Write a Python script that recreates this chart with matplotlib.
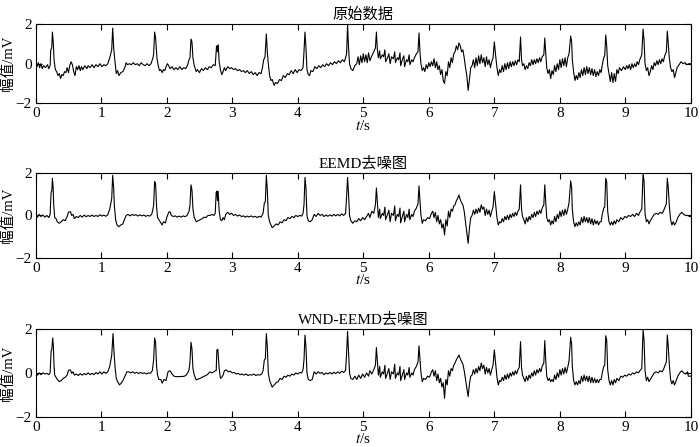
import numpy as np
import matplotlib
matplotlib.use('Agg')
import matplotlib.pyplot as plt

plt.rcParams['font.family'] = ['Liberation Serif', 'Noto Sans CJK SC']
plt.rcParams['mathtext.fontset'] = 'stix'
plt.rcParams['axes.unicode_minus'] = True

titles = ['原始数据', 'EEMD去噪图', 'WND-EEMD去噪图']
xticks = [0, 1, 2, 3, 4, 5, 6, 7, 8, 9, 10]
yticks = [-2, 0, 2]

# (t, mV) points
raw_pts = [
    0.00, 0.0, 0.02, -0.15, 0.04, 0.05, 0.06, -0.2, 0.08, 0.0, 0.10, -0.25, 0.12, -0.1, 0.15, -0.2,
    0.18, -0.05, 0.20, -0.25, 0.22, -0.1, 0.23, 0.7, 0.245, 0.8, 0.255, 1.6, 0.27, 1.0, 0.28, 0.2,
    0.30, -0.3, 0.32, -0.4, 0.34, -0.6, 0.36, -0.5, 0.38, -0.75, 0.40, -0.55, 0.42, -0.6, 0.44, -0.4,
    0.46, -0.45, 0.48, -0.2, 0.50, -0.45, 0.52, -0.1, 0.54, 0.1, 0.56, -0.05, 0.58, -0.4, 0.60, -0.6,
    0.62, -0.15, 0.64, -0.3, 0.66, -0.1, 0.68, -0.35, 0.70, -0.15, 0.72, -0.3, 0.75, -0.1, 0.78, -0.25,
    0.80, -0.1, 0.83, -0.2, 0.86, -0.05, 0.89, -0.2, 0.92, -0.05, 0.95, -0.15, 0.98, 0.0, 1.01, -0.15,
    1.04, -0.05, 1.07, -0.1, 1.10, 0.0, 1.13, 0.3, 1.16, 0.7, 1.175, 1.8, 1.19, 0.8, 1.21, 0.1,
    1.23, -0.5, 1.25, -0.35, 1.27, -0.6, 1.30, -0.45, 1.33, -0.4, 1.36, -0.2, 1.38, 0.05, 1.40, -0.05,
    1.43, 0.0, 1.46, -0.05, 1.49, 0.05, 1.52, -0.05, 1.55, 0.0, 1.58, -0.1, 1.61, 0.05, 1.64, -0.05,
    1.67, -0.1, 1.70, 0.0, 1.73, -0.1, 1.76, 0.0, 1.79, 0.3, 1.80, 0.5, 1.815, 1.6, 1.83, 1.3,
    1.85, 0.3, 1.87, -0.1, 1.89, -0.35, 1.91, -0.3, 1.93, -0.45, 1.95, -0.3, 1.97, -0.35, 1.99, -0.15,
    2.01, 0.0, 2.03, -0.1, 2.05, -0.25, 2.08, -0.15, 2.11, -0.3, 2.14, -0.2, 2.17, -0.3, 2.20, -0.15,
    2.23, -0.3, 2.26, -0.2, 2.29, -0.25, 2.32, -0.05, 2.34, 0.2, 2.355, 0.3, 2.37, 1.25, 2.385, 1.1,
    2.40, 0.3, 2.42, -0.1, 2.45, -0.4, 2.47, -0.3, 2.50, -0.45, 2.53, -0.25, 2.56, -0.35, 2.59, -0.2,
    2.62, -0.3, 2.65, -0.15, 2.68, -0.2, 2.71, -0.05, 2.74, -0.1, 2.76, 0.9, 2.775, 0.6, 2.785, 0.95,
    2.80, 0.1, 2.82, -0.3, 2.84, -0.55, 2.86, -0.4, 2.88, -0.2, 2.90, -0.35, 2.93, -0.15, 2.96, -0.25,
    2.99, -0.2, 3.02, -0.3, 3.05, -0.25, 3.08, -0.35, 3.11, -0.3, 3.14, -0.4, 3.17, -0.35, 3.20, -0.45,
    3.23, -0.35, 3.26, -0.5, 3.29, -0.4, 3.32, -0.55, 3.35, -0.45, 3.38, -0.6, 3.41, -0.45, 3.44, -0.5,
    3.46, -0.2, 3.48, 0.2, 3.50, 0.35, 3.52, 1.5, 3.535, 0.6, 3.55, 0.0, 3.57, -0.6, 3.59, -0.85,
    3.61, -0.8, 3.64, -1.1, 3.66, -0.95, 3.69, -1.0, 3.72, -0.8, 3.75, -0.85, 3.78, -0.6, 3.81, -0.7,
    3.84, -0.5, 3.87, -0.55, 3.90, -0.35, 3.93, -0.5, 3.96, -0.3, 3.99, -0.45, 4.02, -0.3, 4.05, -0.35,
    4.08, -0.2, 4.09, 0.3, 4.11, 1.6, 4.125, 0.8, 4.14, -0.3, 4.16, -0.55, 4.18, -0.6, 4.20, -0.35,
    4.23, -0.4, 4.26, -0.15, 4.29, -0.25, 4.32, -0.1, 4.35, -0.2, 4.38, -0.05, 4.41, -0.15, 4.44, 0.0,
    4.47, -0.1, 4.50, 0.05, 4.53, -0.05, 4.56, 0.1, 4.59, 0.0, 4.62, 0.15, 4.65, 0.05, 4.68, 0.2,
    4.71, 0.1, 4.73, 0.3, 4.745, 0.5, 4.76, 1.95, 4.775, 0.8, 4.79, 0.0, 4.81, -0.25, 4.84, -0.35,
    4.87, -0.1, 4.90, 0.0, 4.92, 0.35, 4.94, -0.05, 4.96, 0.4, 4.98, 0.05, 5.00, 0.5, 5.02, 0.1,
    5.04, 0.45, 5.06, 0.05, 5.08, 0.55, 5.10, 0.15, 5.13, 0.4, 5.16, 0.6, 5.185, 0.8, 5.20, 1.6,
    5.215, 0.7, 5.23, 0.3, 5.25, 0.65, 5.26, 0.25, 5.29, 0.45, 5.31, 0.35, 5.33, 0.7, 5.34, 0.1,
    5.37, 0.3, 5.39, 0.5, 5.41, 0.0, 5.43, 0.35, 5.46, 0.25, 5.48, 0.6, 5.49, 0.05, 5.52, 0.3,
    5.54, 0.2, 5.56, 0.55, 5.57, -0.1, 5.60, 0.25, 5.62, 0.4, 5.63, -0.15, 5.66, 0.2, 5.68, 0.1,
    5.70, 0.45, 5.71, -0.05, 5.74, 0.2, 5.76, 0.1, 5.78, 0.3, 5.81, 0.5, 5.835, 0.6, 5.85, 1.55,
    5.865, 0.6, 5.88, 0.0, 5.90, -0.35, 5.92, -0.2, 5.94, -0.4, 5.96, -0.05, 5.98, -0.25, 6.00, 0.05,
    6.02, -0.15, 6.04, 0.1, 6.06, -0.1, 6.08, 0.25, 6.10, -0.2, 6.12, 0.1, 6.14, -0.3, 6.16, -0.1,
    6.18, -0.55, 6.20, -0.3, 6.22, -0.85, 6.24, -1.0, 6.26, -0.4, 6.28, -0.6, 6.30, 0.1, 6.32, -0.2,
    6.34, 0.3, 6.36, 0.05, 6.38, 0.5, 6.40, 0.6, 6.42, 0.9, 6.44, 0.7, 6.46, 1.05, 6.48, 0.9,
    6.50, 0.6, 6.52, 0.7, 6.54, 0.3, 6.56, -0.2, 6.58, -0.6, 6.60, -1.35, 6.62, -0.8, 6.64, -0.2,
    6.66, -0.1, 6.68, 0.2, 6.70, -0.2, 6.72, 0.3, 6.74, -0.1, 6.76, 0.4, 6.78, 0.0, 6.80, 0.45,
    6.82, 0.05, 6.84, 0.3, 6.86, -0.15, 6.88, 0.35, 6.90, -0.05, 6.92, 0.2, 6.94, -0.2, 6.96, 0.1,
    6.98, 0.3, 7.00, 1.1, 7.02, 0.4, 7.04, -0.2, 7.06, -0.6, 7.08, -0.3, 7.10, -0.45, 7.12, -0.1,
    7.14, -0.4, 7.16, 0.0, 7.18, -0.3, 7.20, 0.05, 7.22, -0.25, 7.24, 0.1, 7.26, -0.15, 7.28, 0.1,
    7.30, -0.1, 7.32, 0.15, 7.34, -0.05, 7.36, 0.2, 7.38, 0.1, 7.40, 1.35, 7.415, 0.2, 7.43, -0.1,
    7.45, 0.0, 7.47, -0.3, 7.49, -0.1, 7.51, -0.25, 7.53, 0.05, 7.55, -0.1, 7.57, 0.2, 7.59, -0.05,
    7.61, 0.2, 7.63, 0.0, 7.65, 0.25, 7.67, 0.05, 7.69, 0.3, 7.71, 0.1, 7.73, 0.35, 7.755, 0.45,
    7.77, 1.3, 7.785, 0.5, 7.80, -0.2, 7.82, -0.5, 7.84, -0.3, 7.86, -0.75, 7.88, -0.35, 7.90, -0.55,
    7.92, -0.1, 7.94, -0.4, 7.96, 0.0, 7.98, -0.3, 8.00, 0.2, 8.02, -0.2, 8.04, 0.25, 8.06, -0.1,
    8.08, 0.3, 8.10, -0.15, 8.12, 0.3, 8.14, 0.5, 8.165, 1.4, 8.18, 1.1, 8.19, 0.2, 8.21, -0.4,
    8.23, -0.85, 8.25, -0.6, 8.27, -0.8, 8.29, -0.45, 8.31, -0.7, 8.33, -0.3, 8.35, -0.6, 8.37, -0.2,
    8.39, -0.55, 8.41, -0.15, 8.43, -0.5, 8.45, -0.2, 8.47, -0.55, 8.49, -0.25, 8.51, -0.6, 8.53, -0.3,
    8.55, -0.65, 8.57, -0.4, 8.59, -0.6, 8.61, -0.3, 8.63, -0.45, 8.65, 0.0, 8.67, 0.3, 8.685, 0.4,
    8.70, 1.45, 8.715, 0.9, 8.73, -0.1, 8.75, -0.5, 8.77, -0.9, 8.79, -0.45, 8.81, -0.95, 8.83, -0.5,
    8.85, -0.9, 8.87, -0.3, 8.89, -0.5, 8.91, -0.2, 8.94, -0.35, 8.97, -0.15, 9.00, -0.3, 9.02, -0.1,
    9.04, -0.25, 9.06, -0.05, 9.08, -0.3, 9.10, 0.0, 9.12, -0.2, 9.14, 0.0, 9.16, -0.15, 9.18, 0.1,
    9.20, -0.05, 9.22, 0.2, 9.25, 0.45, 9.27, 1.75, 9.285, 1.2, 9.30, 0.0, 9.32, -0.35, 9.34, -0.2,
    9.36, -0.6, 9.38, -0.4, 9.40, -0.1, 9.42, -0.3, 9.44, 0.05, 9.46, -0.1, 9.48, 0.15, 9.50, -0.05,
    9.52, 0.2, 9.54, 0.0, 9.56, 0.25, 9.58, 0.1, 9.60, 0.4, 9.625, 0.6, 9.64, 1.65, 9.655, 1.0,
    9.67, 0.3, 9.69, -0.2, 9.71, -0.4, 9.73, -0.3, 9.75, -0.7, 9.77, -0.45, 9.79, -0.2, 9.82, -0.05,
    9.85, 0.1, 9.88, 0.0, 9.91, 0.05, 9.94, -0.05, 9.97, 0.0, 10.0, 0.0,
]

eemd_pts = [
    0.00, 0.0, 0.03, -0.08, 0.05, 0.05, 0.08, -0.05, 0.11, 0.02, 0.14, -0.08, 0.17, 0.0, 0.20, -0.1,
    0.22, 0.05, 0.235, 1.1, 0.245, 1.15, 0.255, 1.75, 0.265, 1.4, 0.275, 0.5, 0.29, -0.1, 0.31, -0.15,
    0.33, -0.3, 0.36, -0.37, 0.39, -0.3, 0.42, -0.2, 0.45, -0.25, 0.48, -0.05, 0.50, 0.15, 0.53, 0.18,
    0.55, 0.0, 0.57, 0.05, 0.59, -0.15, 0.62, -0.05, 0.65, -0.1, 0.68, 0.0, 0.71, -0.08, 0.74, 0.02,
    0.77, -0.06, 0.80, 0.0, 0.83, -0.05, 0.86, 0.02, 0.89, -0.05, 0.92, 0.0, 0.95, -0.05, 0.98, 0.03,
    1.01, -0.03, 1.04, 0.02, 1.07, -0.04, 1.10, 0.03, 1.13, 0.3, 1.16, 0.8, 1.175, 1.9, 1.19, 1.3,
    1.20, 0.5, 1.22, -0.2, 1.24, -0.45, 1.27, -0.53, 1.30, -0.45, 1.33, -0.4, 1.36, -0.15, 1.38, 0.0,
    1.41, 0.05, 1.44, -0.02, 1.47, 0.05, 1.50, 0.0, 1.53, 0.04, 1.56, -0.03, 1.59, 0.03, 1.62, -0.02,
    1.65, 0.02, 1.68, -0.04, 1.71, 0.0, 1.74, -0.03, 1.77, 0.05, 1.79, 0.3, 1.80, 0.5, 1.815, 1.6,
    1.83, 1.5, 1.845, 0.4, 1.86, -0.1, 1.88, -0.2, 1.91, -0.35, 1.93, -0.45, 1.95, -0.3, 1.98, -0.35,
    2.00, -0.1, 2.03, 0.15, 2.05, 0.18, 2.07, 0.0, 2.10, -0.05, 2.13, -0.02, 2.16, -0.08, 2.19, -0.03,
    2.22, -0.08, 2.25, -0.02, 2.28, -0.06, 2.31, 0.0, 2.34, 0.2, 2.355, 0.5, 2.37, 1.45, 2.385, 1.2,
    2.40, 0.3, 2.42, -0.1, 2.45, -0.3, 2.48, -0.25, 2.51, -0.2, 2.54, -0.15, 2.57, -0.08, 2.60, -0.1,
    2.63, 0.0, 2.66, 0.0, 2.69, 0.05, 2.72, 0.0, 2.74, 0.1, 2.755, 1.1, 2.765, 1.15, 2.775, 0.7,
    2.785, 1.15, 2.80, 0.2, 2.82, -0.2, 2.84, -0.25, 2.86, -0.1, 2.88, -0.2, 2.90, 0.05, 2.93, 0.15,
    2.96, 0.05, 2.99, 0.1, 3.02, 0.0, 3.05, 0.05, 3.08, -0.03, 3.11, 0.02, 3.14, -0.05, 3.17, -0.02,
    3.20, -0.08, 3.23, -0.03, 3.26, -0.07, 3.29, -0.02, 3.32, -0.08, 3.35, -0.04, 3.38, -0.1, 3.41, -0.04,
    3.44, -0.08, 3.47, 0.1, 3.49, 0.6, 3.505, 0.65, 3.52, 1.9, 3.535, 1.2, 3.55, 0.0, 3.57, -0.3,
    3.59, -0.45, 3.61, -0.58, 3.64, -0.5, 3.67, -0.4, 3.70, -0.45, 3.73, -0.3, 3.76, -0.35, 3.79, -0.2,
    3.82, -0.25, 3.85, -0.1, 3.88, -0.15, 3.91, -0.05, 3.94, -0.1, 3.97, 0.0, 4.00, -0.05, 4.03, 0.0,
    4.06, -0.03, 4.08, 0.1, 4.095, 0.5, 4.11, 1.8, 4.125, 1.3, 4.14, 0.0, 4.16, -0.25, 4.19, -0.3,
    4.22, -0.2, 4.25, 0.05, 4.28, -0.05, 4.31, 0.1, 4.34, 0.0, 4.37, 0.05, 4.40, -0.05, 4.43, 0.02,
    4.46, -0.04, 4.49, 0.03, 4.52, -0.03, 4.55, 0.05, 4.58, -0.02, 4.61, 0.05, 4.64, -0.02, 4.67, 0.08,
    4.70, 0.0, 4.73, 0.1, 4.745, 0.9, 4.76, 1.8, 4.775, 1.0, 4.79, 0.0, 4.81, -0.25, 4.84, -0.37,
    4.87, -0.25, 4.90, -0.3, 4.93, -0.15, 4.96, -0.25, 4.99, -0.1, 5.02, -0.2, 5.05, -0.05, 5.08, 0.1,
    5.10, -0.1, 5.13, 0.2, 5.16, 0.1, 5.185, 0.5, 5.20, 1.3, 5.215, 0.6, 5.23, -0.1, 5.25, 0.3,
    5.26, -0.15, 5.29, 0.1, 5.31, 0.0, 5.33, 0.4, 5.34, -0.2, 5.37, 0.05, 5.39, 0.25, 5.41, -0.3,
    5.43, 0.1, 5.46, 0.0, 5.48, 0.45, 5.49, -0.25, 5.52, 0.05, 5.54, -0.05, 5.56, 0.35, 5.57, -0.35,
    5.60, 0.0, 5.62, 0.2, 5.63, -0.3, 5.66, 0.05, 5.68, -0.1, 5.70, 0.3, 5.71, -0.2, 5.74, 0.05,
    5.76, -0.05, 5.78, 0.2, 5.81, 0.35, 5.835, 0.55, 5.85, 1.4, 5.865, 0.7, 5.88, 0.0, 5.90, -0.37,
    5.92, -0.2, 5.95, -0.25, 5.98, -0.1, 6.01, -0.15, 6.04, 0.1, 6.06, 0.2, 6.08, -0.1, 6.10, 0.15,
    6.12, -0.3, 6.14, 0.0, 6.16, -0.4, 6.18, -0.2, 6.20, -0.6, 6.22, -0.4, 6.24, -0.92, 6.26, -0.2,
    6.28, -0.5, 6.30, 0.2, 6.32, -0.1, 6.34, 0.3, 6.36, 0.2, 6.38, 0.45, 6.40, 0.5, 6.42, 0.7,
    6.44, 0.8, 6.46, 0.97, 6.48, 0.75, 6.50, 0.6, 6.52, 0.5, 6.54, 0.2, 6.56, -0.3, 6.58, -0.8,
    6.60, -1.32, 6.62, -0.6, 6.64, -0.1, 6.66, 0.0, 6.68, 0.25, 6.70, 0.05, 6.72, 0.3, 6.74, 0.1,
    6.76, 0.35, 6.78, 0.15, 6.80, 0.5, 6.82, 0.3, 6.84, 0.4, 6.86, 0.0, 6.88, 0.3, 6.90, 0.05,
    6.92, 0.25, 6.94, -0.05, 6.96, 0.2, 6.98, 0.4, 7.00, 1.13, 7.02, 0.5, 7.04, -0.1, 7.06, -0.45,
    7.08, -0.3, 7.10, -0.35, 7.12, -0.15, 7.14, -0.3, 7.16, -0.05, 7.18, -0.2, 7.20, 0.0, 7.22, -0.2,
    7.24, 0.05, 7.26, -0.1, 7.28, 0.1, 7.30, -0.05, 7.32, 0.15, 7.34, 0.0, 7.36, 0.2, 7.38, 0.3,
    7.40, 1.45, 7.415, 0.3, 7.43, -0.05, 7.45, -0.2, 7.47, -0.4, 7.49, -0.1, 7.51, -0.3, 7.53, -0.05,
    7.55, -0.2, 7.57, 0.05, 7.59, -0.1, 7.61, 0.15, 7.63, -0.05, 7.65, 0.2, 7.67, 0.05, 7.69, 0.25,
    7.71, 0.1, 7.73, 0.35, 7.755, 0.5, 7.77, 1.45, 7.785, 0.6, 7.80, -0.1, 7.82, -0.3, 7.84, -0.2,
    7.86, -0.45, 7.88, -0.25, 7.90, -0.4, 7.92, -0.05, 7.94, -0.3, 7.96, 0.05, 7.98, -0.15, 8.00, 0.2,
    8.02, -0.05, 8.04, 0.25, 8.06, 0.0, 8.08, 0.3, 8.10, 0.05, 8.12, 0.3, 8.14, 0.6, 8.165, 1.64,
    8.18, 1.3, 8.19, 0.3, 8.21, -0.3, 8.23, -0.53, 8.25, -0.35, 8.27, -0.5, 8.29, -0.3, 8.31, -0.45,
    8.33, -0.1, 8.35, -0.35, 8.37, -0.05, 8.39, -0.3, 8.41, -0.1, 8.43, -0.35, 8.45, -0.1, 8.47, -0.4,
    8.49, -0.15, 8.51, -0.45, 8.53, -0.2, 8.55, -0.4, 8.57, -0.25, 8.59, -0.45, 8.61, -0.3, 8.63, -0.3,
    8.65, 0.1, 8.67, 0.35, 8.685, 0.4, 8.70, 1.76, 8.715, 1.6, 8.73, 0.2, 8.75, -0.3, 8.77, -0.45,
    8.79, -0.3, 8.81, -0.45, 8.83, -0.25, 8.85, -0.4, 8.87, -0.2, 8.90, -0.3, 8.93, -0.1, 8.96, -0.2,
    8.99, -0.05, 9.02, -0.1, 9.05, 0.0, 9.08, -0.05, 9.11, 0.05, 9.14, -0.05, 9.17, 0.1, 9.20, 0.0,
    9.22, 0.15, 9.25, 0.3, 9.27, 2.0, 9.285, 1.6, 9.30, 0.1, 9.32, -0.3, 9.34, -0.2, 9.36, -0.4,
    9.38, -0.25, 9.41, -0.1, 9.44, 0.05, 9.47, 0.1, 9.50, 0.05, 9.53, 0.15, 9.56, 0.1, 9.58, 0.2,
    9.60, 0.35, 9.625, 0.55, 9.64, 1.76, 9.655, 1.3, 9.67, 0.5, 9.69, -0.2, 9.71, -0.45, 9.73, -0.3,
    9.75, -0.45, 9.77, -0.35, 9.80, -0.1, 9.83, 0.05, 9.86, 0.15, 9.89, 0.05, 9.92, 0.0, 9.95, 0.0,
    9.98, -0.05, 10.0, -0.05,
]

wnd_pts = [
    0.00, 0.0, 0.03, -0.1, 0.05, 0.0, 0.08, -0.08, 0.11, 0.0, 0.14, -0.05, 0.17, -0.02, 0.20, -0.08,
    0.22, 0.0, 0.235, 1.0, 0.245, 1.05, 0.26, 1.6, 0.27, 1.2, 0.28, 0.3, 0.29, -0.1, 0.31, -0.2,
    0.33, -0.3, 0.36, -0.4, 0.39, -0.35, 0.42, -0.25, 0.45, -0.2, 0.48, -0.1, 0.50, 0.12, 0.53, 0.14,
    0.55, -0.02, 0.57, 0.05, 0.59, -0.1, 0.62, -0.05, 0.65, -0.12, 0.68, -0.03, 0.71, -0.1, 0.74, -0.03,
    0.77, -0.08, 0.80, 0.0, 0.83, -0.08, 0.86, -0.02, 0.89, -0.08, 0.92, 0.02, 0.95, -0.05, 0.98, 0.05,
    1.01, -0.05, 1.04, 0.05, 1.07, -0.02, 1.10, 0.05, 1.13, 0.3, 1.16, 0.8, 1.18, 1.8, 1.19, 1.2,
    1.21, 0.3, 1.23, -0.25, 1.25, -0.4, 1.28, -0.55, 1.31, -0.45, 1.34, -0.3, 1.37, -0.1, 1.39, 0.05,
    1.42, 0.05, 1.45, 0.0, 1.48, 0.05, 1.51, -0.02, 1.54, 0.03, 1.57, -0.03, 1.60, 0.02, 1.63, -0.02,
    1.66, 0.0, 1.69, -0.05, 1.72, 0.0, 1.75, -0.02, 1.78, 0.1, 1.80, 0.6, 1.815, 1.6, 1.83, 1.4,
    1.845, 0.3, 1.86, -0.1, 1.88, -0.3, 1.91, -0.3, 1.93, -0.47, 1.96, -0.3, 1.99, -0.35, 2.02, 0.05,
    2.05, 0.1, 2.08, -0.05, 2.11, -0.15, 2.14, -0.17, 2.17, -0.17, 2.20, -0.17, 2.23, -0.16, 2.26, -0.16,
    2.29, -0.12, 2.32, 0.0, 2.34, 0.15, 2.355, 0.5, 2.37, 1.4, 2.385, 1.1, 2.40, 0.2, 2.42, -0.1,
    2.45, -0.32, 2.48, -0.28, 2.51, -0.25, 2.54, -0.2, 2.57, -0.15, 2.60, -0.12, 2.63, -0.05, 2.66, 0.05,
    2.69, 0.0, 2.72, 0.05, 2.74, 0.1, 2.755, 0.1, 2.765, 1.05, 2.78, 1.08, 2.79, 0.6, 2.80, 0.2,
    2.82, -0.25, 2.84, -0.2, 2.86, -0.1, 2.88, 0.1, 2.91, 0.14, 2.94, 0.05, 2.97, 0.08, 3.00, 0.0,
    3.03, 0.02, 3.06, -0.05, 3.09, -0.02, 3.12, -0.08, 3.15, -0.05, 3.18, -0.1, 3.21, -0.05, 3.24, -0.12,
    3.27, -0.08, 3.30, -0.1, 3.33, -0.05, 3.36, -0.12, 3.39, -0.08, 3.42, -0.1, 3.45, -0.05, 3.47, 0.1,
    3.49, 0.6, 3.505, 0.65, 3.52, 1.8, 3.535, 1.2, 3.55, 0.0, 3.57, -0.35, 3.59, -0.5, 3.61, -0.65,
    3.64, -0.55, 3.67, -0.45, 3.70, -0.4, 3.73, -0.25, 3.76, -0.3, 3.79, -0.15, 3.82, -0.2, 3.85, -0.1,
    3.88, -0.15, 3.91, -0.05, 3.94, -0.1, 3.97, 0.0, 4.00, -0.05, 4.03, 0.02, 4.06, 0.0, 4.08, 0.15,
    4.095, 0.6, 4.11, 1.73, 4.125, 1.2, 4.14, 0.0, 4.16, -0.3, 4.19, -0.35, 4.22, -0.3, 4.25, 0.05,
    4.28, -0.05, 4.31, 0.05, 4.34, -0.02, 4.37, 0.02, 4.40, -0.08, 4.43, 0.0, 4.46, -0.05, 4.49, 0.02,
    4.52, -0.05, 4.55, 0.03, 4.58, -0.03, 4.61, 0.05, 4.64, -0.02, 4.67, 0.08, 4.70, 0.02, 4.73, 0.12,
    4.745, 0.9, 4.76, 1.9, 4.775, 1.0, 4.79, 0.0, 4.81, -0.25, 4.84, -0.3, 4.87, -0.15, 4.90, -0.3,
    4.93, -0.1, 4.96, -0.25, 4.99, -0.05, 5.02, -0.2, 5.05, 0.0, 5.08, -0.15, 5.10, 0.1, 5.13, -0.05,
    5.16, 0.15, 5.185, 0.35, 5.20, 1.16, 5.215, 0.5, 5.23, -0.1, 5.25, 0.3, 5.26, -0.2, 5.29, 0.05,
    5.31, -0.05, 5.33, 0.35, 5.34, -0.25, 5.37, 0.0, 5.39, 0.2, 5.41, -0.3, 5.43, 0.05, 5.46, -0.05,
    5.48, 0.4, 5.49, -0.25, 5.52, 0.0, 5.54, -0.1, 5.56, 0.3, 5.57, -0.35, 5.60, -0.05, 5.62, 0.15,
    5.63, -0.3, 5.66, 0.0, 5.68, -0.1, 5.70, 0.25, 5.71, -0.2, 5.74, 0.0, 5.76, -0.1, 5.78, 0.15,
    5.81, 0.3, 5.835, 0.5, 5.85, 1.24, 5.865, 0.6, 5.88, 0.0, 5.90, -0.4, 5.92, -0.25, 5.95, -0.3,
    5.98, -0.15, 6.01, -0.2, 6.04, 0.05, 6.06, 0.15, 6.08, -0.15, 6.10, 0.1, 6.12, -0.35, 6.14, -0.05,
    6.16, -0.45, 6.18, -0.25, 6.20, -0.65, 6.22, -0.45, 6.24, -1.16, 6.26, -0.3, 6.28, -0.55, 6.30, 0.1,
    6.32, -0.15, 6.34, 0.2, 6.36, 0.1, 6.38, 0.35, 6.40, 0.45, 6.42, 0.6, 6.44, 0.7, 6.46, 0.82,
    6.48, 0.65, 6.50, 0.52, 6.52, 0.4, 6.54, 0.1, 6.56, -0.3, 6.58, -0.7, 6.60, -1.08, 6.62, -0.5,
    6.64, -0.15, 6.66, -0.1, 6.68, 0.15, 6.70, -0.05, 6.72, 0.2, 6.74, 0.0, 6.76, 0.3, 6.78, 0.1,
    6.80, 0.45, 6.82, 0.2, 6.84, 0.35, 6.86, -0.05, 6.88, 0.25, 6.90, 0.0, 6.92, 0.2, 6.94, -0.1,
    6.96, 0.15, 6.98, 0.35, 7.00, 1.05, 7.02, 0.4, 7.04, -0.2, 7.06, -0.55, 7.08, -0.35, 7.10, -0.4,
    7.12, -0.2, 7.14, -0.35, 7.16, -0.1, 7.18, -0.3, 7.20, -0.05, 7.22, -0.25, 7.24, 0.0, 7.26, -0.15,
    7.28, 0.05, 7.30, -0.1, 7.32, 0.1, 7.34, -0.05, 7.36, 0.15, 7.38, 0.25, 7.40, 1.43, 7.415, 0.25,
    7.43, -0.1, 7.45, -0.25, 7.47, -0.4, 7.49, -0.15, 7.51, -0.35, 7.53, -0.1, 7.55, -0.25, 7.57, 0.0,
    7.59, -0.15, 7.61, 0.1, 7.63, -0.1, 7.65, 0.15, 7.67, 0.0, 7.69, 0.2, 7.71, 0.05, 7.73, 0.3,
    7.755, 0.45, 7.77, 1.48, 7.785, 0.55, 7.80, -0.15, 7.82, -0.35, 7.84, -0.25, 7.86, -0.4, 7.88, -0.3,
    7.90, -0.4, 7.92, -0.1, 7.94, -0.3, 7.96, 0.0, 7.98, -0.2, 8.00, 0.15, 8.02, -0.1, 8.04, 0.2,
    8.06, -0.05, 8.08, 0.25, 8.10, 0.0, 8.12, 0.25, 8.14, 0.55, 8.165, 1.63, 8.18, 1.3, 8.19, 0.3,
    8.21, -0.35, 8.23, -0.55, 8.25, -0.4, 8.27, -0.55, 8.29, -0.35, 8.31, -0.5, 8.33, -0.15, 8.35, -0.4,
    8.37, -0.1, 8.39, -0.35, 8.41, -0.15, 8.43, -0.4, 8.45, -0.15, 8.47, -0.45, 8.49, -0.2, 8.51, -0.45,
    8.53, -0.25, 8.55, -0.45, 8.57, -0.3, 8.59, -0.45, 8.61, -0.3, 8.63, -0.3, 8.65, 0.05, 8.67, 0.3,
    8.685, 0.35, 8.70, 1.7, 8.715, 1.5, 8.73, 0.15, 8.75, -0.35, 8.77, -0.55, 8.79, -0.35, 8.81, -0.55,
    8.83, -0.3, 8.85, -0.45, 8.87, -0.25, 8.90, -0.35, 8.93, -0.15, 8.96, -0.2, 8.99, -0.1, 9.02, -0.15,
    9.05, -0.05, 9.08, -0.1, 9.11, 0.0, 9.14, -0.05, 9.17, 0.05, 9.20, 0.0, 9.22, 0.1, 9.25, 0.2,
    9.27, 1.97, 9.285, 1.5, 9.30, 0.1, 9.32, -0.35, 9.34, -0.2, 9.36, -0.4, 9.38, -0.3, 9.41, -0.15,
    9.44, 0.0, 9.47, 0.05, 9.50, 0.0, 9.53, 0.1, 9.56, 0.05, 9.58, 0.15, 9.60, 0.3, 9.625, 0.5,
    9.64, 1.74, 9.655, 1.2, 9.67, 0.4, 9.69, -0.3, 9.71, -0.5, 9.73, -0.35, 9.75, -0.55, 9.77, -0.4,
    9.80, -0.15, 9.83, 0.0, 9.86, 0.1, 9.89, 0.0, 9.92, -0.05, 9.95, 0.05, 9.96, -0.15, 9.98, -0.15,
    10.0, -0.15,
]

signals = [raw_pts, eemd_pts, wnd_pts]

# axes boxes in figure fractions [left, bottom, width, height]
boxes = [[0.051, 0.769, 0.936, 0.177],
         [0.051, 0.4235, 0.936, 0.189],
         [0.051, 0.068, 0.936, 0.1955]]

fig = plt.figure(figsize=(7.0, 4.47), dpi=100)

for pts, title, box in zip(signals, titles, boxes):
    arr = np.array(pts).reshape(-1, 2)
    ax = fig.add_axes(box)
    ax.plot(arr[:, 0], arr[:, 1], color='black', linewidth=0.8)
    ax.set_xlim(0, 10)
    ax.set_ylim(-2, 2)
    ax.set_xticks(xticks)
    ax.set_yticks(yticks)
    ax.tick_params(direction='in', top=True, right=True, length=4, width=0.8,
                   labelsize=11, pad=3)
    for s in ax.spines.values():
        s.set_linewidth(0.8)
    ax.set_title(title, fontsize=11, pad=4)
    ax.set_xlabel('$t$/s', fontsize=11, labelpad=-1)
    ax.set_ylabel('幅值/mV', fontsize=10.5, labelpad=0)

plt.savefig('out.png', dpi=100)
